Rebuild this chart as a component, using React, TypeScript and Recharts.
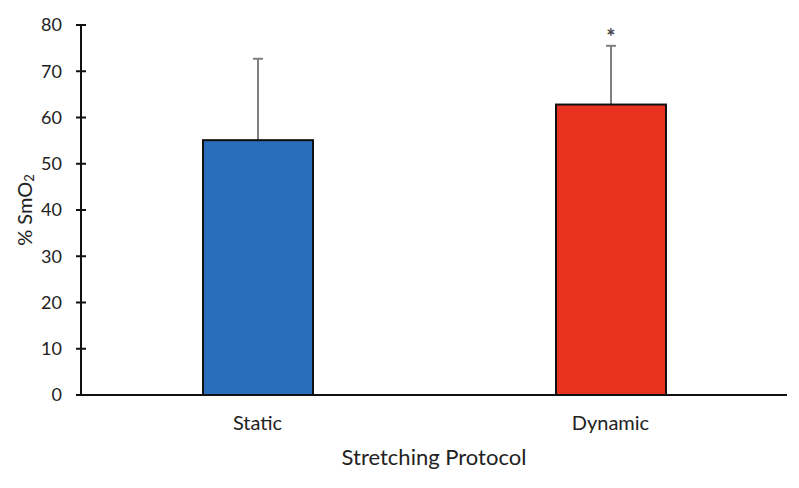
import React from 'react';
import { BarChart, Bar, XAxis, YAxis, Cell, Label } from 'recharts';

const protocols = ['Static', 'Dynamic'];
const meanSmO2 = [55.1, 62.8];
const sdSmO2 = [17.6, 12.7];
const significant = [false, true];
const yTicks = [0, 10, 20, 30, 40, 50, 60, 70, 80];
const barColors = ['#2a6ebb', '#e8321f'];

const data = protocols.map((name, i) => ({
  name,
  mean: meanSmO2[i],
  sd: sdSmO2[i],
  sig: significant[i],
}));

const FONT = 'Lato, "Open Sans", sans-serif';

// bar + one-sided SD whisker + significance star, all from the bar's own scaled geometry
function BarWithError(props: any) {
  const { x, y, width, height, fill, payload } = props;
  const pxPerUnit = height / payload.mean;
  const top = y - payload.sd * pxPerUnit;
  const cx = x + width / 2;
  return (
    <g>
      <line x1={cx} x2={cx} y1={y} y2={top} stroke="#7f7f7f" strokeWidth={2} />
      <line x1={cx - 5} x2={cx + 5} y1={top} y2={top} stroke="#7f7f7f" strokeWidth={2} />
      <rect x={x} y={y} width={width} height={height} fill={fill} stroke="#111" strokeWidth={2} />
      {payload.sig && (
        <text x={cx} y={top - 1} textAnchor="middle" fontSize={22} fontWeight={700} fill="#444" fontFamily={FONT}>
          *
        </text>
      )}
    </g>
  );
}

function YTick(props: any) {
  const { x, y, payload } = props;
  const ax = x + 19; // tickSize + tickMargin
  return (
    <g>
      <line x1={ax - 5} x2={ax + 5} y1={y} y2={y} stroke="#111" strokeWidth={2} />
      <text x={x} y={y} dy="0.36em" textAnchor="end" fontSize={18} fill="#222" fontFamily={FONT}>
        {payload.value}
      </text>
    </g>
  );
}

function YLabel(props: any) {
  const { viewBox } = props;
  const cx = viewBox.x + 24;
  const cy = viewBox.y + viewBox.height / 2;
  return (
    <text
      x={cx}
      y={cy}
      transform={`rotate(-90, ${cx}, ${cy})`}
      textAnchor="middle"
      dominantBaseline="central"
      fontSize={20}
      fill="#222"
      fontFamily={FONT}
    >
      % SmO<tspan fontSize={13} dy={5}>2</tspan>
    </text>
  );
}

export default function App() {
  return (
    <div style={{ position: 'fixed', left: 0, top: 0, width: 799, height: 488, background: '#fff' }}>
      <BarChart width={799} height={488} data={data} margin={{ top: 25, right: 12, left: 0, bottom: 0 }}>
        <XAxis
          dataKey="name"
          height={93}
          axisLine={{ stroke: '#111', strokeWidth: 2 }}
          tickLine={false}
          tickSize={0}
          tickMargin={21}
          tick={{ fontSize: 20, fill: '#222', fontFamily: FONT }}
        >
          <Label
            value="Stretching Protocol"
            position="insideBottom"
            offset={23}
            style={{ fontSize: 22, fill: '#222', fontFamily: FONT }}
          />
        </XAxis>
        <YAxis
          width={81}
          domain={[0, 80]}
          ticks={yTicks}
          interval={0}
          axisLine={{ stroke: '#111', strokeWidth: 2 }}
          tickLine={false}
          tickSize={5}
          tickMargin={14}
          tick={<YTick />}
        >
          <Label content={<YLabel />} />
        </YAxis>
        <Bar dataKey="mean" barSize={110} isAnimationActive={false} shape={<BarWithError />}>
          {data.map((d, i) => (
            <Cell key={d.name} fill={barColors[i]} />
          ))}
        </Bar>
      </BarChart>
    </div>
  );
}
